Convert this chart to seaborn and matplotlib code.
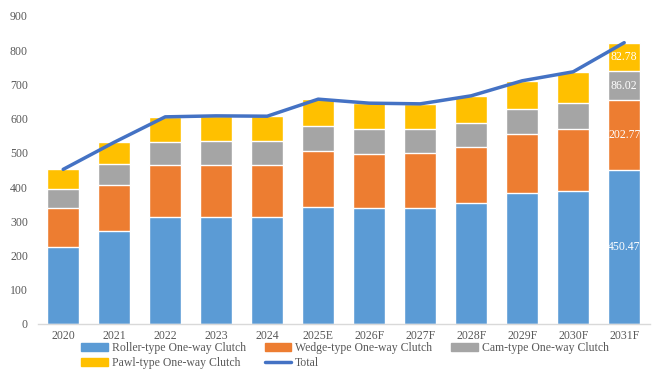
import numpy as np
import pandas as pd
import matplotlib
matplotlib.use('Agg')
import matplotlib.pyplot as plt
from matplotlib.patches import Patch
from matplotlib.lines import Line2D
import seaborn as sns

years = ['2020', '2021', '2022', '2023', '2024', '2025E', '2026F', '2027F',
         '2028F', '2029F', '2030F', '2031F']
roller = [224.5, 271.4, 312.4, 312.4, 312.4, 341.7, 337.8, 337.8, 353.4, 382.7, 388.5, 450.47]
wedge = [113.2, 134.7, 152.3, 152.3, 152.3, 164.0, 158.1, 162.0, 164.0, 171.8, 181.6, 202.77]
cam = [55.6, 60.5, 66.4, 70.3, 70.3, 72.2, 74.2, 70.3, 70.3, 74.2, 76.1, 86.02]
pawl = [58.6, 64.4, 74.2, 73.2, 72.2, 79.1, 75.2, 73.2, 79.1, 82.0, 90.8, 82.78]

series_names = ['Roller-type One-way Clutch', 'Wedge-type One-way Clutch',
                'Cam-type One-way Clutch', 'Pawl-type One-way Clutch']
colors = ['#5B9BD5', '#ED7D31', '#A5A5A5', '#FFC000']
line_color = '#4472C4'
text_color = '#595959'

sns.set_style('white')
plt.rcParams['font.family'] = ['Liberation Serif', 'DejaVu Serif']

df = pd.DataFrame({'year': years, 'roller': roller, 'wedge': wedge,
                   'cam': cam, 'pawl': pawl})
df['total'] = df[['roller', 'wedge', 'cam', 'pawl']].sum(axis=1)
cols = ['roller', 'wedge', 'cam', 'pawl']
cum = df[cols].cumsum(axis=1)

fig = plt.figure(figsize=(6.68, 3.74), dpi=100)
ax = fig.add_axes([37.7 / 668, 50 / 374, 612 / 668, 308 / 374])

# stacked bars: draw from the tallest cumulative layer down
for col, color in zip(reversed(cols), reversed(colors)):
    sns.barplot(x=df['year'], y=cum[col], color=color, width=0.63,
                saturation=1, ax=ax, order=years)

# total line
sns.lineplot(x=np.arange(len(years)), y=df['total'], color=line_color,
             linewidth=2.5, ax=ax)

# data labels for the last year
last = len(years) - 1
bottoms = [0] + list(cum.iloc[last][cols[:-1]])
for col, b in zip(cols, bottoms):
    v = df[col].iloc[last]
    ax.text(last, b + v / 2, f'{v:.2f}', color='white', ha='center',
            va='center', fontsize=8.5)

ax.set_xlim(-0.5, len(years) - 0.5)
ax.set_ylim(0, 900)
ax.set_yticks(range(0, 901, 100))
ax.set_xlabel('')
ax.set_ylabel('')
for s in ['top', 'right', 'left']:
    ax.spines[s].set_visible(False)
ax.spines['bottom'].set_color('#D9D9D9')
ax.spines['bottom'].set_linewidth(1)
ax.set_xticks(np.arange(-0.5, len(years)), minor=True)
ax.tick_params(axis='x', which='minor', length=5, color='#D9D9D9', width=1)
ax.tick_params(axis='x', which='major', length=0, pad=4, labelsize=8.5,
               labelcolor=text_color)
ax.tick_params(axis='y', length=0, pad=7, labelsize=8.5, labelcolor=text_color)

handles = [Patch(color=colors[0]), Patch(color=colors[3]),
           Patch(color=colors[1]), Line2D([], [], color=line_color, linewidth=2.5),
           Patch(color=colors[2])]
labels = [series_names[0], series_names[3], series_names[1], 'Total', series_names[2]]
fig.legend(handles, labels, loc='upper left', bbox_to_anchor=(81 / 668, 1 - 342 / 374),
           ncol=3, frameon=False, fontsize=8.5, borderpad=0, borderaxespad=0,
           handlelength=2.26, handleheight=0.68, handletextpad=0.34,
           columnspacing=1.6, labelspacing=0.25, labelcolor=text_color)

fig.savefig('out.png', dpi=100)
